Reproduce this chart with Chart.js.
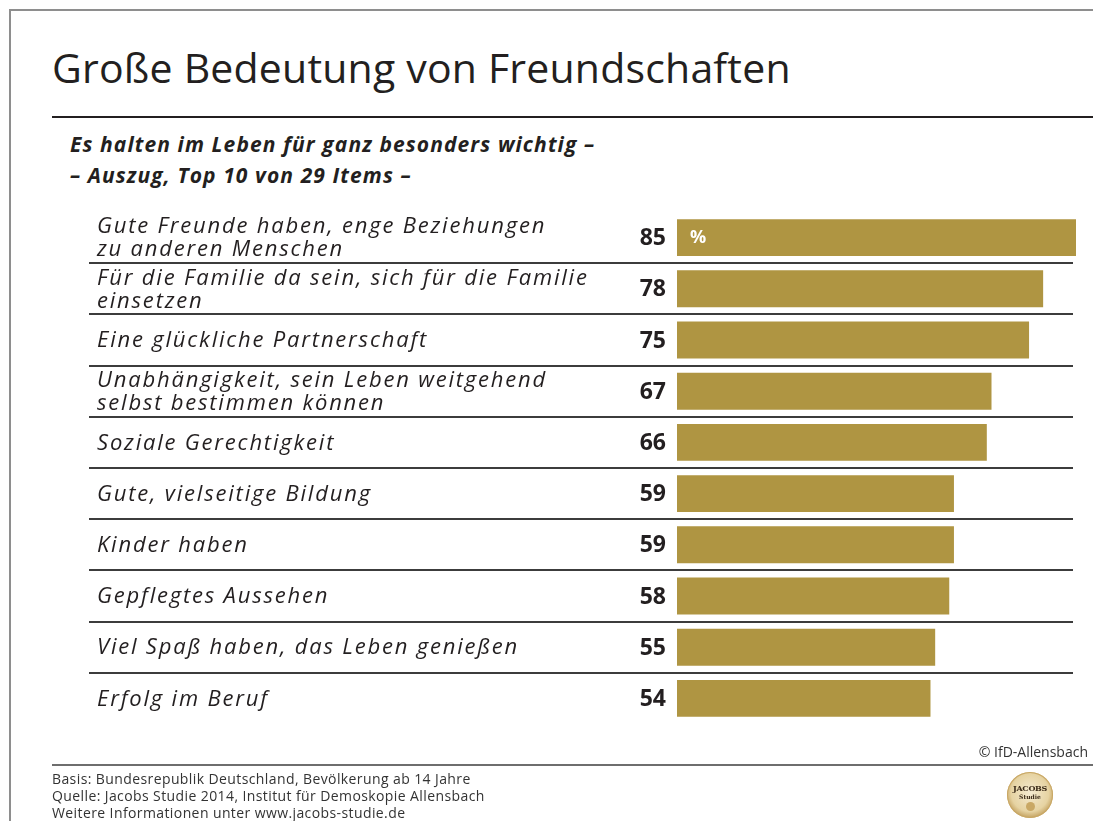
<!DOCTYPE html>
<html lang="de">
<head>
<meta charset="utf-8">
<title>Große Bedeutung von Freundschaften</title>
<script src="https://cdn.jsdelivr.net/npm/chart.js@4"></script>
<style>
  body {
    margin: 0;
    width: 1093px;
    height: 821px;
    position: relative;
    overflow: hidden;
    background: #fff;
    color: #231f20;
    font-family: "Open Sans", sans-serif;
  }
  .frame-top  { position: absolute; left: 9px; top: 9px; right: 0; height: 2px; background: #8e8e8e; }
  .frame-left { position: absolute; left: 9px; top: 9px; bottom: 0; width: 2px; background: #8e8e8e; }
  h1 {
    position: absolute; left: 52px; top: 47px; margin: 0;
    font-size: 41px; line-height: 40px; font-weight: 400; letter-spacing: 0.2px; white-space: nowrap;
  }
  .rule-title { position: absolute; left: 52px; right: 0; top: 116px; height: 2px; background: #231f20; }
  .subtitle {
    position: absolute; left: 70px; top: 129px; margin: 0;
    font-size: 21px; line-height: 31px; font-weight: 700; font-style: italic;
    letter-spacing: 1.1px; white-space: nowrap;
  }
  #chart { position: absolute; left: 0; top: 0; }
  .copyright {
    position: absolute; right: 5px; top: 743px;
    font-size: 14px; line-height: 17px; color: #333; white-space: nowrap;
  }
  .rule-foot { position: absolute; left: 52px; right: 0; top: 764px; height: 1.5px; background: #6e6e6e; }
  .source {
    position: absolute; left: 52px; top: 770px;
    font-size: 14px; line-height: 17px; color: #333; letter-spacing: 0.4px; white-space: nowrap;
  }
  .logo {
    position: absolute; left: 1007px; top: 772px; width: 46px; height: 46px; border-radius: 50%;
    background: radial-gradient(circle at 50% 45%, #f4ead0 0%, #e6d3a2 55%, #b8914a 80%, #8a6a2e 100%);
    box-shadow: 0 0 0 1px #c9a865 inset;
    text-align: center; font-family: "DejaVu Serif", serif; color: #3a2a18;
  }
  .logo b { display: block; margin-top: 12px; font-size: 8px; line-height: 9px; letter-spacing: -0.3px; }
  .logo span { display: block; font-size: 6px; line-height: 7px; font-weight: 700; }
  .logo i { display: block; width: 9px; height: 9px; margin: 2px auto 0; border-radius: 50%; background: #c9a865; }
</style>
</head>
<body>
<div class="frame-top"></div>
<div class="frame-left"></div>

<h1>Große Bedeutung von Freundschaften</h1>
<div class="rule-title"></div>
<p class="subtitle">Es halten im Leben für ganz besonders wichtig –<br>– Auszug, Top 10 von 29 Items –</p>

<canvas id="chart" width="1093" height="821"></canvas>

<div class="copyright">© IfD-Allensbach</div>
<div class="rule-foot"></div>
<div class="source">
  Basis: Bundesrepublik Deutschland, Bevölkerung ab 14 Jahre<br>
  Quelle: Jacobs Studie 2014, Institut für Demoskopie Allensbach<br>
  Weitere Informationen unter www.jacobs-studie.de
</div>
<div class="logo"><b>JACOBS</b><span>Studie</span><i></i></div>

<script>
// ── Daten ────────────────────────────────────────────────────────────────────
const categories = [
  ["Gute Freunde haben, enge Beziehungen", "zu anderen Menschen"],
  ["Für die Familie da sein, sich für die Familie", "einsetzen"],
  ["Eine glückliche Partnerschaft"],
  ["Unabhängigkeit, sein Leben weitgehend", "selbst bestimmen können"],
  ["Soziale Gerechtigkeit"],
  ["Gute, vielseitige Bildung"],
  ["Kinder haben"],
  ["Gepflegtes Aussehen"],
  ["Viel Spaß haben, das Leben genießen"],
  ["Erfolg im Beruf"],
];
const values = [85, 78, 75, 67, 66, 59, 59, 58, 55, 54];
const unitLabel = "%";

const BAR_COLOR  = "#af9542";
const TEXT_COLOR = "#231f20";

// ── Plugin: Texte links, Werte und Trennlinien ──────────────────────────────
const rowLabels = {
  id: "rowLabels",
  beforeDatasetsDraw(chart) {
    const { ctx, scales: { y } } = chart;
    ctx.save();
    ctx.strokeStyle = "#3c3c3c";
    ctx.lineWidth = 2;
    for (let i = 0; i < values.length - 1; i++) {
      const yy = Math.round((y.getPixelForValue(i) + y.getPixelForValue(i + 1)) / 2);
      ctx.beginPath();
      ctx.moveTo(89, yy);
      ctx.lineTo(1073, yy);
      ctx.stroke();
    }
    ctx.restore();
  },
  afterDatasetsDraw(chart) {
    const { ctx, scales: { y } } = chart;
    const bars = chart.getDatasetMeta(0).data;
    ctx.save();
    ctx.textBaseline = "middle";

    categories.forEach((lines, i) => {
      const cy = y.getPixelForValue(i);
      const lh = 23;
      const y0 = cy - (lines.length - 1) * lh / 2;

      ctx.fillStyle = TEXT_COLOR;
      ctx.font = 'italic 400 22px "Open Sans", sans-serif';
      ctx.letterSpacing = "1.8px";
      ctx.textAlign = "left";
      lines.forEach((txt, k) => ctx.fillText(txt, 97, y0 + k * lh + 1));

      ctx.font = '700 23px "Open Sans", sans-serif';
      ctx.letterSpacing = "0px";
      ctx.textAlign = "right";
      ctx.fillText(String(values[i]), 666, cy + 1);
    });

    // Einheit im ersten Balken
    const first = bars[0];
    if (first) {
      ctx.fillStyle = "#fff";
      ctx.font = '700 18px "Open Sans", sans-serif';
      ctx.textAlign = "left";
      ctx.fillText(unitLabel, first.base + 13, first.y);
    }
    ctx.restore();
  },
};

new Chart(document.getElementById("chart"), {
  type: "bar",
  data: {
    labels: categories,
    datasets: [{
      data: values,
      backgroundColor: BAR_COLOR,
      borderWidth: 0,
      barPercentage: 0.72,
      categoryPercentage: 1,
    }],
  },
  options: {
    indexAxis: "y",
    responsive: false,
    animation: false,
    devicePixelRatio: 1,
    layout: { padding: { left: 677, right: 17, top: 212, bottom: 97 } },
    plugins: {
      legend: { display: false },
      tooltip: { enabled: false },
    },
    scales: {
      x: { display: false, min: 0, max: 85 },
      y: { display: false },
    },
  },
  plugins: [rowLabels],
});
</script>
</body>
</html>
